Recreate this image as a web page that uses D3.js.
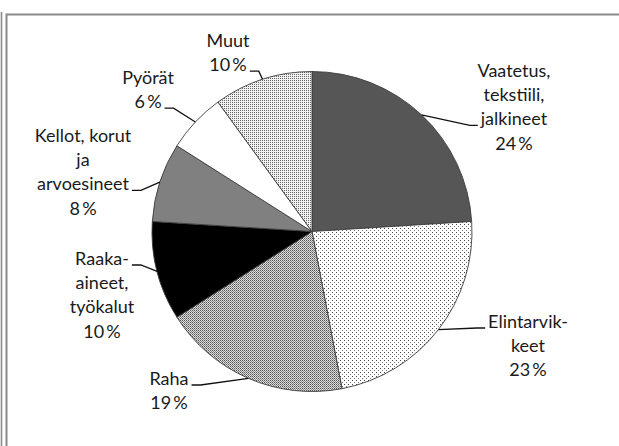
<!DOCTYPE html>
<html>
<head>
<meta charset="utf-8">
<script src="https://cdn.jsdelivr.net/npm/d3@7"></script>
<style>
  body { margin: 0; background: #fff; }
  svg { display: block; }
  text { font-family: Lato, "Open Sans", sans-serif; font-size: 18px; fill: #1a1a1a; }
</style>
</head>
<body>
<div id="plot"></div>
<script>
// slices, clockwise from 12 o'clock
var categories = ["Vaatetus", "Elintarvikkeet", "Raha", "Raaka-aineet", "Kellot", "Pyörät", "Muut"];
var values = [24, 23, 19, 10, 8, 6, 10];
var labelLines = [
  ["Vaatetus,", "tekstiili,", "jalkineet"],
  ["Elintarvik-", "keet"],
  ["Raha"],
  ["Raaka-", "aineet,", "työkalut"],
  ["Kellot, korut", "ja", "arvoesineet"],
  ["Pyörät"],
  ["Muut"]
];

// label placement (text centre, first baseline, line where the leader meets the text)
var labelLayout = [
  { cx: 514, y: 77,  lead: 2, side: "right" },
  { cx: 528, y: 328, lead: 0, side: "right" },
  { cx: 169, y: 385, lead: 0, side: "left" },
  { cx: 102, y: 265, lead: 0, side: "left" },
  { cx: 83,  y: 142, lead: 2, side: "left" },
  { cx: 148, y: 84,  lead: 1, side: "left" },
  { cx: 228, y: 47,  lead: 1, side: "left" }
];

var fills = ["#565656", "url(#dotsSparse)", "url(#dotsDense)", "#000000", "#808080", "#ffffff", "url(#dotsLight)"];

var width = 619, height = 446;
var cx = 312, cy = 231.5, radius = 160;
var lineH = 24.2;

var svg = d3.select("#plot").append("svg")
  .attr("width", width)
  .attr("height", height);

// patterns (shifted so the tiles land on whole pixels)
var defs = svg.append("defs");

function makePattern(id, size) {
  return defs.append("pattern").attr("id", id)
    .attr("patternUnits", "userSpaceOnUse")
    .attr("patternTransform", "translate(0,0.5)")
    .attr("width", size).attr("height", size);
}

var p1 = makePattern("dotsSparse", 4);
p1.append("rect").attr("width", 4).attr("height", 4).attr("fill", "#fff");
p1.append("rect").attr("x", 0).attr("y", 0).attr("width", 1).attr("height", 1).attr("fill", "#444");
p1.append("rect").attr("x", 2).attr("y", 2).attr("width", 1).attr("height", 1).attr("fill", "#777");

var p2 = makePattern("dotsDense", 2);
p2.append("rect").attr("width", 2).attr("height", 2).attr("fill", "#dcdcdc");
p2.append("rect").attr("x", 0).attr("y", 0).attr("width", 1).attr("height", 1).attr("fill", "#555");
p2.append("rect").attr("x", 1).attr("y", 1).attr("width", 1).attr("height", 1).attr("fill", "#8a8a8a");

var p3 = makePattern("dotsLight", 2);
p3.append("rect").attr("width", 2).attr("height", 2).attr("fill", "#f2f2f2");
p3.append("rect").attr("width", 1).attr("height", 1).attr("fill", "#666");

// frame
svg.append("line")
  .attr("x1", 1.5).attr("y1", 12).attr("x2", 1.5).attr("y2", height)
  .attr("stroke", "#8a8a8a").attr("stroke-width", 1.6);
svg.append("path")
  .attr("d", "M6.5," + height + "V14.5H" + width)
  .attr("fill", "none").attr("stroke", "#8a8a8a").attr("stroke-width", 2);

var data = categories.map(function (c, i) {
  return { name: c, value: values[i], lines: labelLines[i], layout: labelLayout[i], fill: fills[i] };
});

var pie = d3.pie().sort(null).value(function (d) { return d.value; });
var arcs = pie(data);

var arc = d3.arc().innerRadius(0).outerRadius(radius);
var edge = d3.arc().innerRadius(radius).outerRadius(radius);

var g = svg.append("g").attr("transform", "translate(" + cx + "," + cy + ")");

g.selectAll("path.slice")
  .data(arcs)
  .enter().append("path")
  .attr("class", "slice")
  .attr("d", arc)
  .attr("fill", function (d) { return d.data.fill; })
  .attr("stroke", "#3c3c3c")
  .attr("stroke-width", 0.9)
  .attr("stroke-linejoin", "round");

// labels and leader lines
arcs.forEach(function (d) {
  var L = d.data.layout;
  var lines = d.data.lines.concat([d.data.value + "\u2009%"]);
  var t = svg.append("text").attr("text-anchor", "middle");
  lines.forEach(function (s, i) {
    t.append("tspan").attr("x", L.cx).attr("y", L.y + i * lineH).text(s);
  });

  // leader: from slice edge (mid angle) to an elbow, then level to the text
  var p = edge.centroid(d);
  var sx = cx + p[0], sy = cy + p[1];
  var tw = t.selectAll("tspan").nodes()[L.lead].getComputedTextLength();
  var ly = L.y + L.lead * lineH;
  var ex, bx;
  if (L.side === "right") {
    ex = L.cx - tw / 2 - 3;
    bx = ex - 8;
  } else {
    ex = L.cx + tw / 2 + 3;
    bx = ex + 9;
  }
  svg.append("path")
    .attr("d", "M" + sx + "," + sy + "L" + bx + "," + ly + "L" + ex + "," + ly)
    .attr("fill", "none")
    .attr("stroke", "#111")
    .attr("stroke-width", 1.3);
});
</script>
</body>
</html>
